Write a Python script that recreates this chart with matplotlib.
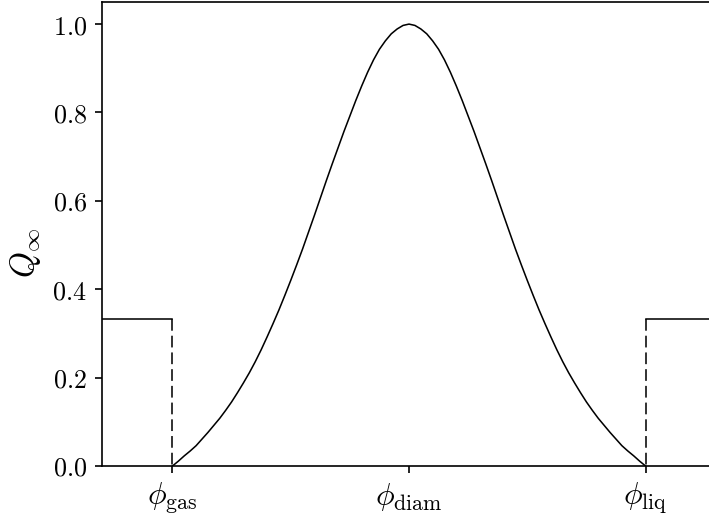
import matplotlib
matplotlib.use("Agg")
import matplotlib.pyplot as plt
from matplotlib.ticker import FixedLocator, FuncFormatter

plt.rcParams["mathtext.fontset"] = "cm"
plt.rcParams["font.family"] = "serif"
plt.rcParams["font.serif"] = ["DejaVu Serif"]
plt.rcParams["font.size"] = 12

# order parameter phi (0 = gas, 0.5 = diamond, 1 = liquid) and Q_inf along the path
phi = [0.0000, 0.0125, 0.0250, 0.0375, 0.0500, 0.0625, 0.0750, 0.0875, 0.1000,
       0.1125, 0.1250, 0.1375, 0.1500, 0.1625, 0.1750, 0.1875, 0.2000, 0.2125,
       0.2250, 0.2375, 0.2500, 0.2625, 0.2750, 0.2875, 0.3000, 0.3125, 0.3250,
       0.3375, 0.3500, 0.3625, 0.3750, 0.3875, 0.4000, 0.4125, 0.4250, 0.4375,
       0.4500, 0.4625, 0.4750, 0.4875, 0.5000, 0.5125, 0.5250, 0.5375, 0.5500,
       0.5625, 0.5750, 0.5875, 0.6000, 0.6125, 0.6250, 0.6375, 0.6500, 0.6625,
       0.6750, 0.6875, 0.7000, 0.7125, 0.7250, 0.7375, 0.7500, 0.7625, 0.7750,
       0.7875, 0.8000, 0.8125, 0.8250, 0.8375, 0.8500, 0.8625, 0.8750, 0.8875,
       0.9000, 0.9125, 0.9250, 0.9375, 0.9500, 0.9625, 0.9750, 0.9875, 1.0000]
q_inf = [0.000, 0.011, 0.023, 0.034, 0.046, 0.061, 0.076, 0.092, 0.108,
         0.126, 0.145, 0.166, 0.188, 0.211, 0.236, 0.263, 0.292, 0.322,
         0.353, 0.386, 0.420, 0.455, 0.491, 0.529, 0.567, 0.606, 0.645,
         0.683, 0.720, 0.757, 0.792, 0.827, 0.860, 0.891, 0.919, 0.943,
         0.962, 0.978, 0.989, 0.997, 1.000, 0.997, 0.989, 0.978, 0.962,
         0.943, 0.919, 0.891, 0.860, 0.827, 0.792, 0.757, 0.720, 0.683,
         0.645, 0.606, 0.567, 0.529, 0.491, 0.455, 0.420, 0.386, 0.353,
         0.322, 0.292, 0.263, 0.236, 0.211, 0.188, 0.166, 0.145, 0.126,
         0.108, 0.092, 0.076, 0.061, 0.046, 0.034, 0.023, 0.011, 0.000]

# plateau value outside the two phase boundaries
q_outer = 1 / 3
x_min, x_max = -0.15, 1.15

tick_pos = [0.0, 0.5, 1.0]
tick_labels = [r"$\phi_{\mathrm{gas}}$", r"$\phi_{\mathrm{diam}}$", r"$\phi_{\mathrm{liq}}$"]
y_ticks = [0.0, 0.2, 0.4, 0.6, 0.8, 1.0]

fig = plt.figure(figsize=(709 / 150, 515 / 150), dpi=150)
ax = fig.add_axes([101.5 / 709, 49 / 515, 615 / 709, 464 / 515])

lw = 0.75
ax.plot(phi, q_inf, color="black", lw=lw, solid_joinstyle="round")

# outer plateaus with dashed drops at the boundaries
ax.plot([x_min, tick_pos[0]], [q_outer, q_outer], color="black", lw=lw)
ax.plot([tick_pos[0], tick_pos[0]], [q_outer, 0], color="black", lw=lw,
        linestyle=(0, (7.5, 3.2)))
ax.plot([tick_pos[2], x_max], [q_outer, q_outer], color="black", lw=lw)
ax.plot([tick_pos[2], tick_pos[2]], [q_outer, 0], color="black", lw=lw,
        linestyle=(0, (7.5, 3.2)))

ax.set_xlim(x_min, x_max)
ax.set_ylim(0, 1.05)
ax.xaxis.set_major_locator(FixedLocator(tick_pos))
ax.set_xticklabels(tick_labels)
ax.yaxis.set_major_locator(FixedLocator(y_ticks))
ax.yaxis.set_major_formatter(FuncFormatter(lambda v, _: f"${v:.1f}$"))
ax.tick_params(axis="y", labelsize=12.5)
ax.tick_params(axis="x", labelsize=15)

ax.set_ylabel(r"$Q_\infty$", fontsize=16, va="center")
ax.yaxis.set_label_coords(-0.124, 0.46)

fig.savefig("out.png", dpi=150)
